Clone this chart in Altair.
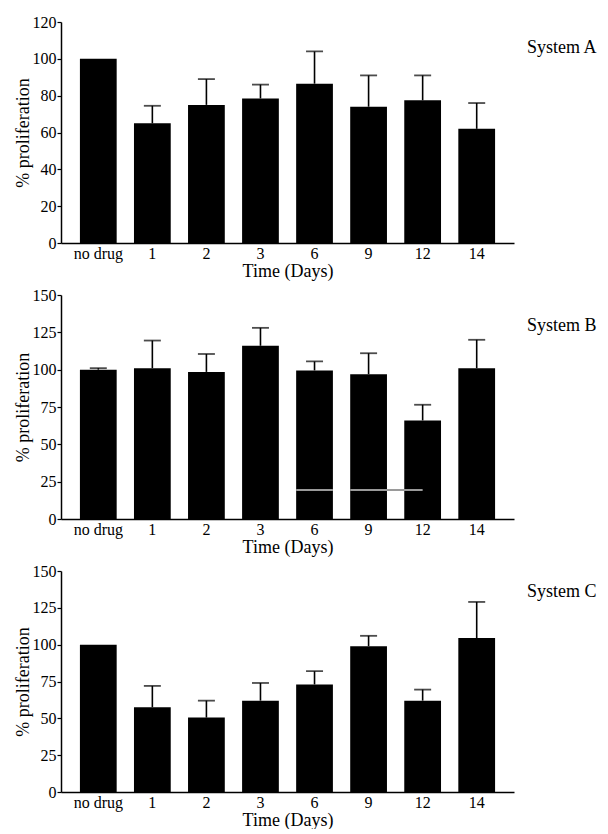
import altair as alt
import pandas as pd

days = ["no drug", "1", "2", "3", "6", "9", "12", "14"]

a_mean = [100, 65, 75, 78.5, 86.5, 74, 77.5, 62]
a_upper = [None, 74.5, 89, 86, 104, 91, 91, 76]

b_mean = [100, 101, 98.5, 116, 99.5, 97, 66, 101]
b_upper = [101, 119.5, 110.5, 128, 105.5, 111, 76.5, 120]

c_mean = [100, 57.5, 50.5, 62, 73, 99, 62, 104.5]
c_upper = [None, 72, 62, 74, 82, 106, 69.5, 129]

# faint grey stroke seen across the System B bars
b_artifact_level = [19.5]
b_artifact_from = ["6", "9"]
b_artifact_to = ["6", "12"]

FONT = "Liberation Serif"
W = 453


def panel(mean, upper, ymax, step, label, label_y, h, artifact=False):
    df = pd.DataFrame({"day": days, "mean": mean, "upper": upper})
    base = alt.Chart(df)
    xscale = alt.Scale(domain=days, paddingInner=0.32, paddingOuter=0.35)
    xaxis = alt.Axis(title="Time (Days)", labelAngle=0, ticks=False,
                     labelPadding=2, titlePadding=1)
    yscale = alt.Scale(domain=[0, ymax], nice=False)
    yaxis = alt.Axis(values=list(range(0, ymax + 1, step)), title="% proliferation",
                     tickSize=4, labelPadding=1, titlePadding=0, grid=False,
                     labelOverlap=False)

    def X(field, **kw):
        return alt.X(field, scale=xscale, axis=xaxis, **kw)

    def Y(field):
        return alt.Y(field, scale=yscale, axis=yaxis)

    bars = base.mark_bar(color="black").encode(x=X("day:N"), y=Y("mean:Q"))
    valid = base.transform_filter("isValid(datum.upper)")
    err = valid.mark_rule(color="black", strokeWidth=1.6).encode(
        x=X("day:N"), y=Y("mean:Q"), y2="upper:Q")
    cap = valid.mark_tick(color="black", size=17, thickness=1.8).encode(
        x=X("day:N"), y=Y("upper:Q"))
    txt = alt.Chart(pd.DataFrame({"t": [label]})).mark_text(
        align="left", baseline="middle", fontSize=18, font=FONT, color="black"
    ).encode(text="t:N", x=alt.value(W + 13), y=alt.value(label_y))
    layers = [bars, err, cap]
    if artifact:
        adf = pd.DataFrame({"from": b_artifact_from, "to": b_artifact_to,
                            "lvl": b_artifact_level * len(b_artifact_from)})
        a1 = alt.Chart(adf.iloc[[0]]).mark_rule(color="#9a9a9a", strokeWidth=2).encode(
            x=X("from:N", bandPosition=0),
            x2=alt.X2("to:N", bandPosition=1),
            y=Y("lvl:Q"))
        a2 = alt.Chart(adf.iloc[[1]]).mark_rule(color="#9a9a9a", strokeWidth=2).encode(
            x=X("from:N", bandPosition=0),
            x2=alt.X2("to:N", bandPosition=0.5),
            y=Y("lvl:Q"))
        layers += [a1, a2]
    layers.append(txt)
    return alt.layer(*layers).properties(width=W, height=h)


pA = panel(a_mean, a_upper, 120, 20, "System A", 26, 221)
pB = panel(b_mean, b_upper, 150, 25, "System B", 31, 224, artifact=True)
pC = panel(c_mean, c_upper, 150, 25, "System C", 21, 221)

chart = alt.vconcat(pA, pB, pC, spacing=7).properties(
    padding={"left": 6, "top": 6, "right": 0, "bottom": 0}
).configure_view(stroke=None).configure_axis(
    labelFont=FONT, titleFont=FONT, labelFontSize=16, titleFontSize=18,
    titleFontWeight="normal", labelColor="black", titleColor="black",
    domainColor="black", tickColor="black", domainWidth=1.5, tickWidth=1.2,
)

chart.save("out.html", embed_options={"renderer": "svg", "actions": False})
